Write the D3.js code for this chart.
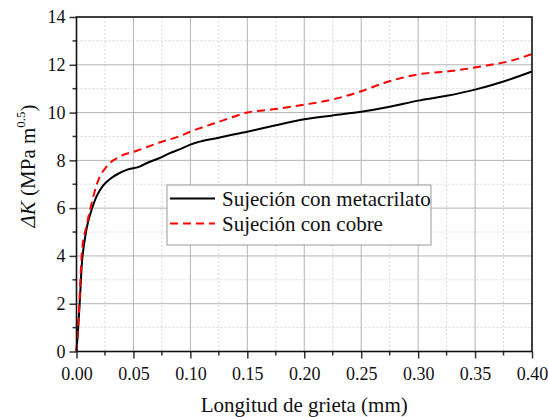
<!DOCTYPE html>
<html>
<head>
<meta charset="utf-8">
<script src="https://cdn.jsdelivr.net/npm/d3@7"></script>
<style>
  body { margin: 0; background: #fff; }
  svg text { font-family: "Liberation Serif", "Times New Roman", serif; }
</style>
</head>
<body>
<svg id="chart"></svg>
<script>
// crack length (mm) and stress intensity range for each clamping
const metaX = [0, 0.0015, 0.003, 0.0046, 0.007, 0.010, 0.0133, 0.0177, 0.0235, 0.0294, 0.037, 0.044, 0.056, 0.062, 0.073, 0.082, 0.091, 0.10, 0.125, 0.15, 0.175, 0.20, 0.225, 0.25, 0.275, 0.30, 0.325, 0.35, 0.375, 0.40];
const metaK = [0, 1.0, 2.2, 3.6, 4.6, 5.4, 5.93, 6.5, 6.95, 7.22, 7.45, 7.6, 7.75, 7.89, 8.1, 8.3, 8.47, 8.66, 8.95, 9.2, 9.47, 9.72, 9.88, 10.03, 10.24, 10.5, 10.7, 10.96, 11.3, 11.72];
const cobreX = [0, 0.002, 0.0048, 0.009, 0.0133, 0.0175, 0.0206, 0.025, 0.0294, 0.038, 0.053, 0.073, 0.091, 0.10, 0.126, 0.15, 0.175, 0.20, 0.225, 0.25, 0.27, 0.30, 0.331, 0.36, 0.38, 0.40];
const cobreK = [0, 1.5, 4.2, 5.3, 6.21, 6.95, 7.33, 7.65, 7.89, 8.16, 8.4, 8.75, 9.02, 9.2, 9.63, 10.0, 10.15, 10.33, 10.55, 10.89, 11.24, 11.6, 11.75, 11.97, 12.15, 12.45];
const seriesNames = ["Sujeción con metacrilato", "Sujeción con cobre"];
const xTicks = [0, 0.05, 0.10, 0.15, 0.20, 0.25, 0.30, 0.35, 0.40];
const yTicks = [0, 2, 4, 6, 8, 10, 12, 14];

const svgWidth = 548, svgHeight = 417;
const margin = { top: 17, right: 16, bottom: 65.5, left: 76.5 };
const width = svgWidth - margin.left - margin.right;
const height = svgHeight - margin.top - margin.bottom;

const svg = d3.select("#chart").attr("width", svgWidth).attr("height", svgHeight);
const g = svg.append("g").attr("transform", "translate(" + margin.left + "," + margin.top + ")");

const x = d3.scaleLinear().domain([0, 0.40]).range([0, width]);
const y = d3.scaleLinear().domain([0, 14]).range([height, 0]);

// minor grid (dotted)
const xMinor = d3.range(0.025, 0.40, 0.05);
const yMinor = d3.range(1, 14, 2);
g.selectAll(".xminor").data(xMinor).enter().append("line")
  .attr("x1", d => x(d)).attr("x2", d => x(d)).attr("y1", 0).attr("y2", height)
  .attr("stroke", "#d8d8d8").attr("stroke-width", 1).attr("stroke-dasharray", "2,2");
g.selectAll(".yminor").data(yMinor).enter().append("line")
  .attr("y1", d => y(d)).attr("y2", d => y(d)).attr("x1", 0).attr("x2", width)
  .attr("stroke", "#d8d8d8").attr("stroke-width", 1).attr("stroke-dasharray", "2,2");

// major grid
g.selectAll(".xgrid").data(xTicks.slice(1, -1)).enter().append("line")
  .attr("x1", d => x(d)).attr("x2", d => x(d)).attr("y1", 0).attr("y2", height)
  .attr("stroke", "#b4b4b4").attr("stroke-width", 1);
g.selectAll(".ygrid").data(yTicks.slice(1, -1)).enter().append("line")
  .attr("y1", d => y(d)).attr("y2", d => y(d)).attr("x1", 0).attr("x2", width)
  .attr("stroke", "#b4b4b4").attr("stroke-width", 1);

// lines
const line = d3.line().x(d => x(d[0])).y(d => y(d[1])).curve(d3.curveMonotoneX);
g.append("path")
  .datum(metaX.map((v, i) => [v, metaK[i]]))
  .attr("fill", "none").attr("stroke", "#000").attr("stroke-width", 2)
  .attr("d", line);
g.append("path")
  .datum(cobreX.map((v, i) => [v, cobreK[i]]))
  .attr("fill", "none").attr("stroke", "#ff0000").attr("stroke-width", 2)
  .attr("stroke-dasharray", "8,5")
  .attr("d", line);

// axes
const xAxis = g.append("g").attr("transform", "translate(0," + height + ")")
  .call(d3.axisBottom(x).tickValues(xTicks).tickFormat(d3.format(".2f")).tickSize(7).tickPadding(5));
const yAxis = g.append("g")
  .call(d3.axisLeft(y).tickValues(yTicks).tickFormat(d3.format("d")).tickSize(7).tickPadding(4));
[xAxis, yAxis].forEach(a => {
  a.attr("font-family", null);
  a.select(".domain").remove();
  a.selectAll(".tick line").attr("stroke", "#333").attr("stroke-width", 1.5);
  a.selectAll("text").attr("font-size", 18).attr("fill", "#111");
});
xAxis.selectAll("text").attr("dy", "0.9em");
g.append("g").selectAll("line").data(xMinor).enter().append("line")
  .attr("x1", d => x(d)).attr("x2", d => x(d)).attr("y1", height).attr("y2", height + 4)
  .attr("stroke", "#333").attr("stroke-width", 1.5);
g.append("g").selectAll("line").data(yMinor).enter().append("line")
  .attr("y1", d => y(d)).attr("y2", d => y(d)).attr("x1", 0).attr("x2", -4)
  .attr("stroke", "#333").attr("stroke-width", 1.5);

// frame
g.append("rect").attr("width", width).attr("height", height)
  .attr("fill", "none").attr("stroke", "#111").attr("stroke-width", 1.6);

// axis titles
svg.append("text")
  .attr("x", margin.left + width / 2).attr("y", 412)
  .attr("text-anchor", "middle").attr("font-size", 21).attr("fill", "#111")
  .text("Longitud de grieta (mm)");
const yt = svg.append("text")
  .attr("transform", "translate(35,166) rotate(-90)")
  .attr("text-anchor", "middle").attr("font-size", 21).attr("fill", "#111");
yt.append("tspan").attr("font-style", "italic").text("ΔK");
yt.append("tspan").text(" (MPa m");
yt.append("tspan").attr("font-size", 13).attr("dy", -10).text("0.5");
yt.append("tspan").attr("dy", 10).text(")");

// legend
const lg = svg.append("g").attr("transform", "translate(167,185)");
lg.append("rect").attr("width", 264).attr("height", 60)
  .attr("fill", "#fff").attr("stroke", "#999").attr("stroke-width", 1);
const legendStyles = [{ c: "#000", dash: null }, { c: "#ff0000", dash: "8,5" }];
seriesNames.forEach((name, i) => {
  const row = lg.append("g").attr("transform", "translate(0," + (13.5 + i * 25) + ")");
  row.append("line").attr("x1", 3).attr("x2", 48).attr("y1", 0).attr("y2", 0)
    .attr("stroke", legendStyles[i].c).attr("stroke-width", 2)
    .attr("stroke-dasharray", legendStyles[i].dash);
  row.append("text").attr("x", 55).attr("y", 7)
    .attr("font-size", 21).attr("fill", "#111").text(name);
});
</script>
</body>
</html>
